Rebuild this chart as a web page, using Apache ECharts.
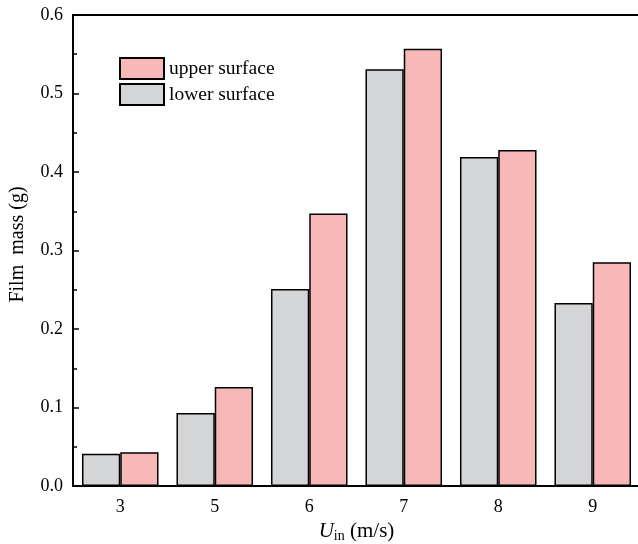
<!DOCTYPE html>
<html><head><meta charset="utf-8">
<script src="https://cdn.jsdelivr.net/npm/echarts@6/dist/echarts.min.js"></script>
<style>html,body{margin:0;padding:0;background:#fff}#c{width:638px;height:544px}</style>
</head><body><div id="c"></div>
<script>
const categories = ['3','5','6','7','8','9'];
const lowerSurface = [0.041, 0.093, 0.251, 0.531, 0.419, 0.233];
const upperSurface = [0.043, 0.126, 0.347, 0.557, 0.428, 0.285];
const yTicks = [0.0, 0.1, 0.2, 0.3, 0.4, 0.5, 0.6];

const font = 'Liberation Serif, Times New Roman, serif';
const chart = echarts.init(document.getElementById('c'), null, {renderer:'canvas'});
chart.setOption({
  animation:false,
  backgroundColor:'#fff',
  textStyle:{fontFamily:font},
  grid:{left:73, top:15, width:567, height:471, outerBoundsMode:'none', containLabel:false},
  legend:{
    data:['upper surface','lower surface'],
    orient:'vertical', left:119, top:57, padding:0,
    itemWidth:44, itemHeight:21, itemGap:3,
    textStyle:{fontFamily:font, fontSize:19.5, color:'#000', padding:[0,0,0,0]},
    icon:'rect'
  },
  xAxis:[{
    type:'category', data:categories,
    axisLine:{show:true, lineStyle:{color:'#000', width:2}},
    axisTick:{show:false},
    axisLabel:{fontFamily:font, fontSize:18, color:'#000', margin:12},
    name:'{u|U}{s|in} (m/s)', nameLocation:'middle', nameGap:33,
    nameTextStyle:{fontFamily:font, fontSize:21, color:'#000',
      rich:{u:{fontFamily:font, fontStyle:'italic', fontSize:21, color:'#000'},
            s:{fontFamily:font, fontSize:14, color:'#000', verticalAlign:'bottom', padding:[10,0,0,0]}}}
  },{
    type:'category', data:categories, position:'top',
    axisLine:{show:true, lineStyle:{color:'#000', width:2}},
    axisTick:{show:false}, axisLabel:{show:false}
  }],
  yAxis:{
    type:'value', min:0, max:0.6, interval:0.1,
    axisLine:{show:true, lineStyle:{color:'#000', width:2}},
    axisTick:{show:true, inside:true, length:6, lineStyle:{color:'#000', width:1.5}},
    minorTick:{show:true, splitNumber:2, length:4, lineStyle:{color:'#000', width:1.5}},
    splitLine:{show:false},
    axisLabel:{fontFamily:font, fontSize:18, color:'#000', margin:10,
      formatter:function(v){ const t = yTicks.find(x=>Math.abs(x-v)<1e-9); return (t!==undefined?t:v).toFixed(1);} },
    name:'Film  mass (g)', nameLocation:'middle', nameGap:45,
    nameTextStyle:{fontFamily:font, fontSize:20, color:'#000', padding:[0,0,0,12]}
  },
  series:[
    {name:'lower surface', type:'bar', data:lowerSurface, barGap:'0%', barCategoryGap:'19%',
     itemStyle:{color:'#d4d5d7', borderColor:'#000', borderWidth:1.5}},
    {name:'upper surface', type:'bar', data:upperSurface, barGap:'0%', barCategoryGap:'19%',
     itemStyle:{color:'#f9b8b8', borderColor:'#000', borderWidth:1.5}}
  ]
});
</script></body></html>
